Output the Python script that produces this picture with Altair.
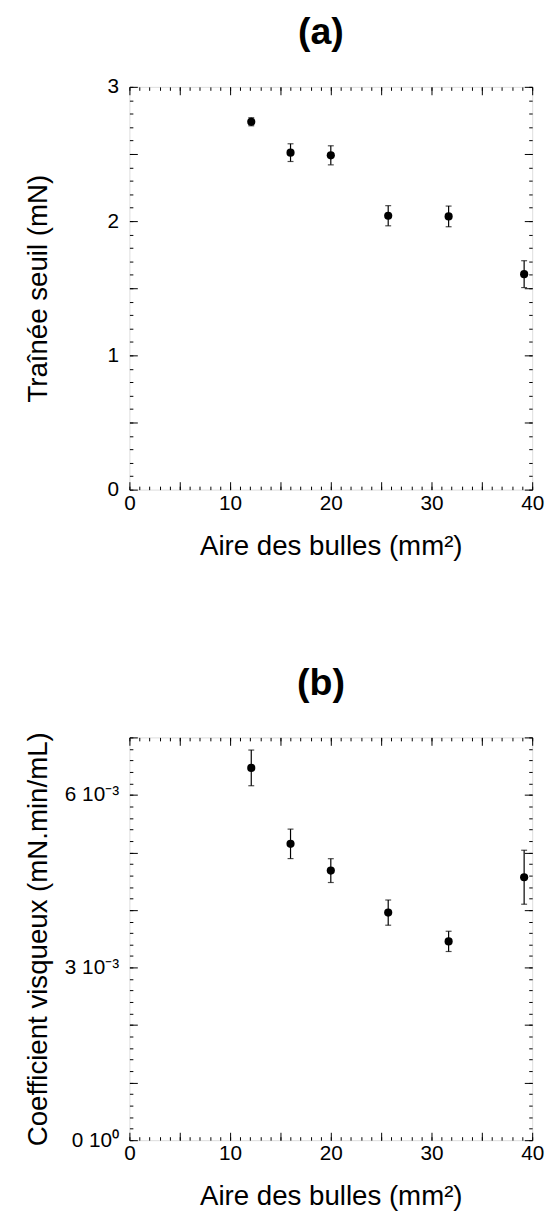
import altair as alt
import pandas as pd

# ---- data ----
area = [12.1, 16.0, 20.0, 25.7, 31.7, 39.2]              # Aire des bulles (mm2)
trainee = [2.74, 2.51, 2.49, 2.04, 2.035, 1.605]          # (a) Traînée seuil (mN)
trainee_err = [0.03, 0.066, 0.071, 0.075, 0.077, 0.10]
visc = [6.47e-3, 5.15e-3, 4.685e-3, 3.955e-3, 3.455e-3, 4.57e-3]   # (b) coefficient visqueux
visc_err = [0.31e-3, 0.256e-3, 0.207e-3, 0.219e-3, 0.176e-3, 0.469e-3]

# ---- axis ticks / labels ----
x_major = list(range(0, 41, 5))
x_minor = list(range(0, 41, 1))
x_label_values = [0, 10, 20, 30, 40]
ya_major = [i * 0.5 for i in range(7)]
ya_minor = [round(i * 0.1, 1) for i in range(31)]
ya_label_values = [0, 1, 2, 3]
ya_label_text = ["0", "1", "2", "3"]
yb_major = [round(i * 1e-3, 6) for i in range(8)]
yb_minor = [round(i * 0.2e-3, 6) for i in range(36)]
yb_label_values = [0.0, 0.003, 0.006]
yb_label_text = ["0 10\u2070", "3 10\u207b\u00b3", "6 10\u207b\u00b3"]

FONT = "Liberation Sans"
W = 408
H = 408
LONG = 8
SHORT = 3.5


def label_expr(values, texts):
    expr = "''"
    for v, t in reversed(list(zip(values, texts))):
        expr = f"abs(datum.value - ({v})) < 1e-9 ? '{t}' : ({expr})"
    return expr


def axis(orient, values, size, labels=False, expr=None, title=None, extra=None):
    kw = dict(
        orient=orient, values=values, tickSize=size, offset=-size,
        domain=False, grid=False, tickColor="black", tickWidth=1,
        labels=labels, title=title,
    )
    if labels:
        kw.update(labelFont=FONT, labelFontSize=21, labelColor="black",
                  labelFlush=False, labelOverlap=False)
        if expr is not None:
            kw["labelExpr"] = expr
    if title is not None:
        kw.update(titleFont=FONT, titleFontSize=28, titleFontWeight="normal",
                  titleColor="black", titleAlign="center", titleBaseline="alphabetic")
    if extra:
        kw.update(extra)
    return alt.Axis(**kw)


def panel(yvals, yerr, ydom, y_major, y_minor, y_expr, ytitle, ttext):
    df = pd.DataFrame({
        "x": area,
        "y": yvals,
        "lo": [v - e for v, e in zip(yvals, yerr)],
        "hi": [v + e for v, e in zip(yvals, yerr)],
    })
    xs = alt.Scale(domain=[0, 40], nice=False, zero=False)
    ys = alt.Scale(domain=ydom, nice=False, zero=False)
    base = alt.Chart(df)

    x_lab_expr = label_expr(x_label_values, [str(v) for v in x_label_values])

    bottom_long = axis("bottom", x_major, LONG, labels=True, expr=x_lab_expr,
                       title="Aire des bulles (mm\u00b2)",
                       extra=dict(labelPadding=3, labelBaseline="top",
                                  titleX=W / 2, titleY=73.5))
    left_long = axis("left", y_major, LONG, labels=True, expr=y_expr,
                     title=ytitle,
                     extra=dict(labelPadding=11, labelAlign="right",
                                labelBaseline="middle", titleAngle=270,
                                titleX=-91.7, titleY=H / 2))

    err = base.mark_errorbar(ticks=True, size=6, thickness=1.2, color="black").encode(
        x=alt.X("x:Q", scale=xs, axis=None),
        y=alt.Y("lo:Q", scale=ys, axis=None),
        y2="hi:Q",
    )
    pts = base.mark_circle(size=68, color="black", opacity=1).encode(
        x=alt.X("x:Q", scale=xs, axis=bottom_long),
        y=alt.Y("y:Q", scale=ys, axis=left_long),
    )
    g1 = base.mark_point(opacity=0).encode(
        x=alt.X("x:Q", scale=xs, axis=axis("bottom", x_minor, SHORT)),
        y=alt.Y("y:Q", scale=ys, axis=axis("left", y_minor, SHORT)),
    )
    g2 = base.mark_point(opacity=0).encode(
        x=alt.X("x:Q", scale=xs, axis=axis("top", x_major, LONG)),
        y=alt.Y("y:Q", scale=ys, axis=axis("right", y_major, LONG)),
    )
    g3 = base.mark_point(opacity=0).encode(
        x=alt.X("x:Q", scale=xs, axis=axis("top", x_minor, SHORT)),
        y=alt.Y("y:Q", scale=ys, axis=axis("right", y_minor, SHORT)),
    )
    return alt.layer(err, pts, g1, g2, g3).resolve_axis(
        x="independent", y="independent"
    ).properties(
        width=W, height=H,
        title=alt.TitleParams(text=ttext, font=FONT, fontSize=38, fontWeight="bold",
                              color="black", anchor="middle", frame="group",
                              dx=-10, offset=-6, baseline="alphabetic"),
    )


pa = panel(trainee, trainee_err, [0, 3], ya_major, ya_minor,
           label_expr(ya_label_values, ya_label_text),
           "Traînée seuil (mN)", "(a)")
pb = panel(visc, visc_err, [0, 0.007], yb_major, yb_minor,
           label_expr(yb_label_values, yb_label_text),
           "Coefficient visqueux (mN.min/mL)", "(b)")

chart = alt.vconcat(pa, pb, spacing=251, bounds="flush").configure_view(
    stroke="black", strokeWidth=1
).configure(font=FONT).properties(padding={"left": 16, "top": -2, "right": 2, "bottom": 2},
                                   background="white")

chart.save("out.html", embed_options={"renderer": "svg", "actions": False})
